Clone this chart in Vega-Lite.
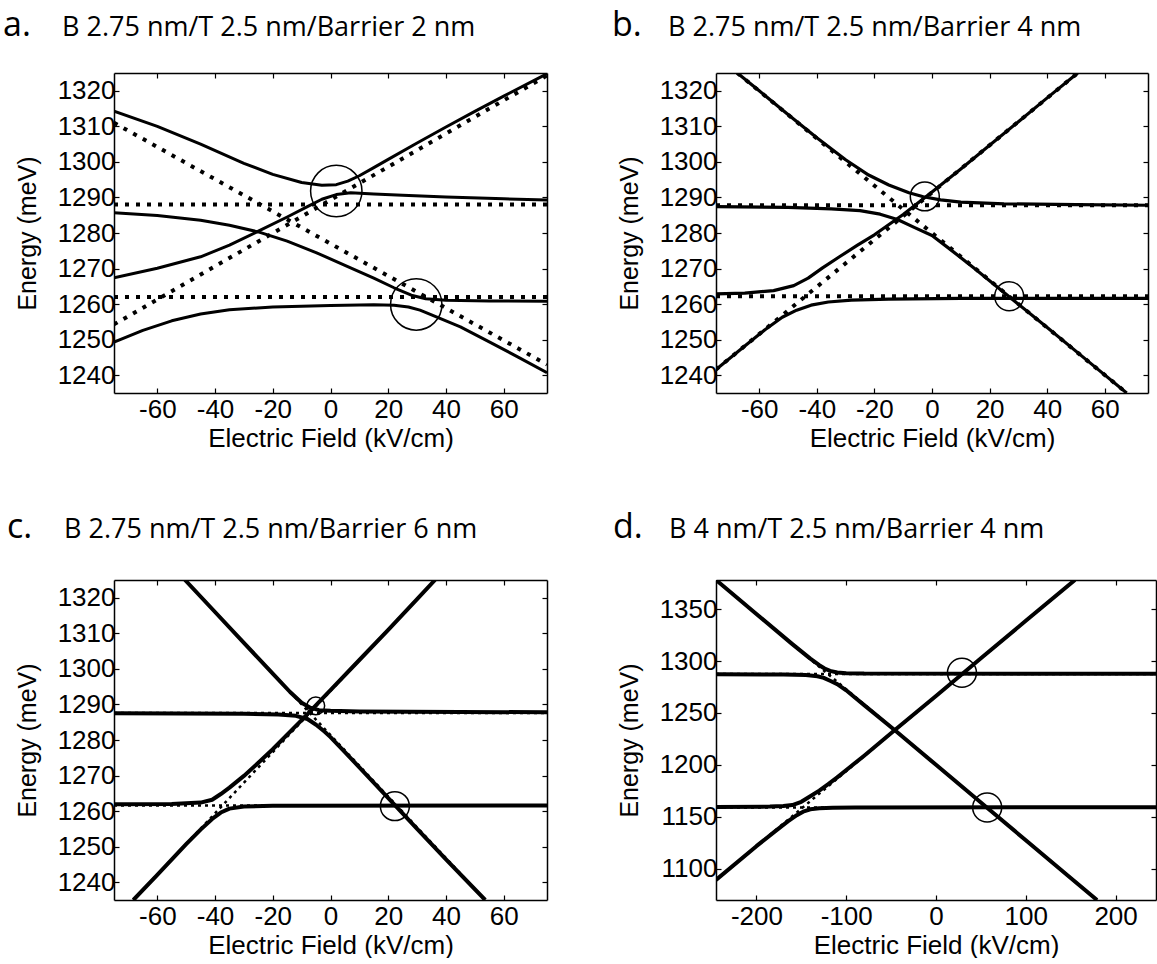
{
  "$schema": "https://vega.github.io/schema/vega-lite/v6.json",
  "background": "white",
  "padding": {"left": 3, "top": 9, "right": 0, "bottom": 0},
  "datasets": {
    "lines": [
      {"p":"a","s":"d","c":"D1","x":-75,"y":1288},{"p":"a","s":"d","c":"D1","x":75,"y":1288},
      {"p":"a","s":"d","c":"D2","x":-75,"y":1262},{"p":"a","s":"d","c":"D2","x":75,"y":1262},
      {"p":"a","s":"d","c":"I1","x":-75,"y":1311},{"p":"a","s":"d","c":"I1","x":75,"y":1243},
      {"p":"a","s":"d","c":"I2","x":-75,"y":1254.3},{"p":"a","s":"d","c":"I2","x":75,"y":1324.3},
      {"p":"a","s":"s","c":"S1","x":-75,"y":1314.3},{"p":"a","s":"s","c":"S1","x":-60,"y":1310},{"p":"a","s":"s","c":"S1","x":-45,"y":1305},{"p":"a","s":"s","c":"S1","x":-30,"y":1299.6},{"p":"a","s":"s","c":"S1","x":-20,"y":1296.5},{"p":"a","s":"s","c":"S1","x":-10,"y":1294.2},{"p":"a","s":"s","c":"S1","x":-3,"y":1293.4},{"p":"a","s":"s","c":"S1","x":2,"y":1293.6},{"p":"a","s":"s","c":"S1","x":6,"y":1294.6},{"p":"a","s":"s","c":"S1","x":10,"y":1296.1},{"p":"a","s":"s","c":"S1","x":15,"y":1298.4},{"p":"a","s":"s","c":"S1","x":20,"y":1300.7},{"p":"a","s":"s","c":"S1","x":30,"y":1305.3},{"p":"a","s":"s","c":"S1","x":40,"y":1309.8},{"p":"a","s":"s","c":"S1","x":50,"y":1314.2},{"p":"a","s":"s","c":"S1","x":60,"y":1318.5},{"p":"a","s":"s","c":"S1","x":75,"y":1324.8},
      {"p":"a","s":"s","c":"S2","x":-75,"y":1267.4},{"p":"a","s":"s","c":"S2","x":-60,"y":1270.1},{"p":"a","s":"s","c":"S2","x":-45,"y":1273.3},{"p":"a","s":"s","c":"S2","x":-35,"y":1276.6},{"p":"a","s":"s","c":"S2","x":-25,"y":1280.5},{"p":"a","s":"s","c":"S2","x":-15,"y":1284.5},{"p":"a","s":"s","c":"S2","x":-8,"y":1287.4},{"p":"a","s":"s","c":"S2","x":-3,"y":1289.5},{"p":"a","s":"s","c":"S2","x":2,"y":1290.8},{"p":"a","s":"s","c":"S2","x":7,"y":1291.3},{"p":"a","s":"s","c":"S2","x":15,"y":1291},{"p":"a","s":"s","c":"S2","x":25,"y":1290.6},{"p":"a","s":"s","c":"S2","x":40,"y":1290.1},{"p":"a","s":"s","c":"S2","x":60,"y":1289.6},{"p":"a","s":"s","c":"S2","x":75,"y":1289.3},
      {"p":"a","s":"s","c":"S3","x":-75,"y":1285.7},{"p":"a","s":"s","c":"S3","x":-60,"y":1284.9},{"p":"a","s":"s","c":"S3","x":-45,"y":1283.6},{"p":"a","s":"s","c":"S3","x":-35,"y":1282.2},{"p":"a","s":"s","c":"S3","x":-25,"y":1280.3},{"p":"a","s":"s","c":"S3","x":-15,"y":1277.7},{"p":"a","s":"s","c":"S3","x":-5,"y":1274.5},{"p":"a","s":"s","c":"S3","x":5,"y":1270.9},{"p":"a","s":"s","c":"S3","x":15,"y":1267.3},{"p":"a","s":"s","c":"S3","x":22,"y":1264.6},{"p":"a","s":"s","c":"S3","x":28,"y":1262.5},{"p":"a","s":"s","c":"S3","x":33,"y":1261.5},{"p":"a","s":"s","c":"S3","x":40,"y":1261.1},{"p":"a","s":"s","c":"S3","x":55,"y":1260.9},{"p":"a","s":"s","c":"S3","x":75,"y":1260.8},
      {"p":"a","s":"s","c":"S4","x":-75,"y":1249.3},{"p":"a","s":"s","c":"S4","x":-65,"y":1252.6},{"p":"a","s":"s","c":"S4","x":-55,"y":1255.3},{"p":"a","s":"s","c":"S4","x":-45,"y":1257.2},{"p":"a","s":"s","c":"S4","x":-35,"y":1258.4},{"p":"a","s":"s","c":"S4","x":-20,"y":1259.2},{"p":"a","s":"s","c":"S4","x":0,"y":1259.6},{"p":"a","s":"s","c":"S4","x":15,"y":1259.8},{"p":"a","s":"s","c":"S4","x":22,"y":1259.7},{"p":"a","s":"s","c":"S4","x":27,"y":1259.2},{"p":"a","s":"s","c":"S4","x":31,"y":1258.3},{"p":"a","s":"s","c":"S4","x":35,"y":1257},{"p":"a","s":"s","c":"S4","x":45,"y":1253.6},{"p":"a","s":"s","c":"S4","x":55,"y":1249.4},{"p":"a","s":"s","c":"S4","x":65,"y":1245.1},{"p":"a","s":"s","c":"S4","x":75,"y":1240.7},

      {"p":"b","s":"d","c":"D1","x":-75,"y":1287.8},{"p":"b","s":"d","c":"D1","x":75,"y":1287.8},
      {"p":"b","s":"d","c":"D2","x":-75,"y":1262.2},{"p":"b","s":"d","c":"D2","x":75,"y":1262.2},
      {"p":"b","s":"d","c":"I1","x":-67.6,"y":1325},{"p":"b","s":"d","c":"I1","x":67.6,"y":1235},
      {"p":"b","s":"d","c":"I2","x":-75,"y":1241.6},{"p":"b","s":"d","c":"I2","x":50.6,"y":1325},
      {"p":"b","s":"s","c":"S1","x":-67.6,"y":1325},{"p":"b","s":"s","c":"S1","x":-60,"y":1320},{"p":"b","s":"s","c":"S1","x":-50,"y":1313.3},{"p":"b","s":"s","c":"S1","x":-40,"y":1306.8},{"p":"b","s":"s","c":"S1","x":-30,"y":1300.6},{"p":"b","s":"s","c":"S1","x":-22,"y":1296.3},{"p":"b","s":"s","c":"S1","x":-15,"y":1293.5},{"p":"b","s":"s","c":"S1","x":-8,"y":1291.3},{"p":"b","s":"s","c":"S1","x":-3,"y":1290.2},{"p":"b","s":"s","c":"S1","x":3,"y":1289.3},{"p":"b","s":"s","c":"S1","x":10,"y":1288.7},{"p":"b","s":"s","c":"S1","x":25,"y":1288.2},{"p":"b","s":"s","c":"S1","x":50,"y":1288},{"p":"b","s":"s","c":"S1","x":75,"y":1287.8},
      {"p":"b","s":"s","c":"S2","x":-75,"y":1262.9},{"p":"b","s":"s","c":"S2","x":-65,"y":1263.1},{"p":"b","s":"s","c":"S2","x":-55,"y":1263.8},{"p":"b","s":"s","c":"S2","x":-48,"y":1265.2},{"p":"b","s":"s","c":"S2","x":-43,"y":1267.3},{"p":"b","s":"s","c":"S2","x":-38,"y":1270.2},{"p":"b","s":"s","c":"S2","x":-32,"y":1273.4},{"p":"b","s":"s","c":"S2","x":-26,"y":1276.5},{"p":"b","s":"s","c":"S2","x":-20,"y":1279.5},{"p":"b","s":"s","c":"S2","x":-10,"y":1285.2},{"p":"b","s":"s","c":"S2","x":0,"y":1291.5},{"p":"b","s":"s","c":"S2","x":10,"y":1298},{"p":"b","s":"s","c":"S2","x":20,"y":1304.7},{"p":"b","s":"s","c":"S2","x":30,"y":1311.3},{"p":"b","s":"s","c":"S2","x":40,"y":1318},{"p":"b","s":"s","c":"S2","x":50.6,"y":1325},
      {"p":"b","s":"s","c":"S3","x":-75,"y":1287.4},{"p":"b","s":"s","c":"S3","x":-50,"y":1287.2},{"p":"b","s":"s","c":"S3","x":-35,"y":1286.8},{"p":"b","s":"s","c":"S3","x":-25,"y":1286.3},{"p":"b","s":"s","c":"S3","x":-18,"y":1285.3},{"p":"b","s":"s","c":"S3","x":-12,"y":1283.8},{"p":"b","s":"s","c":"S3","x":-6,"y":1281.5},{"p":"b","s":"s","c":"S3","x":0,"y":1279.3},{"p":"b","s":"s","c":"S3","x":6,"y":1275.6},{"p":"b","s":"s","c":"S3","x":15,"y":1269.9},{"p":"b","s":"s","c":"S3","x":26.8,"y":1262.1},{"p":"b","s":"s","c":"S3","x":40,"y":1253.4},{"p":"b","s":"s","c":"S3","x":55,"y":1243.4},{"p":"b","s":"s","c":"S3","x":67.6,"y":1235},
      {"p":"b","s":"s","c":"S4","x":-75,"y":1241.6},{"p":"b","s":"s","c":"S4","x":-65,"y":1248.2},{"p":"b","s":"s","c":"S4","x":-58,"y":1252.8},{"p":"b","s":"s","c":"S4","x":-52,"y":1256.3},{"p":"b","s":"s","c":"S4","x":-47,"y":1258.3},{"p":"b","s":"s","c":"S4","x":-42,"y":1259.7},{"p":"b","s":"s","c":"S4","x":-36,"y":1260.6},{"p":"b","s":"s","c":"S4","x":-28,"y":1261.1},{"p":"b","s":"s","c":"S4","x":-15,"y":1261.4},{"p":"b","s":"s","c":"S4","x":10,"y":1261.6},{"p":"b","s":"s","c":"S4","x":75,"y":1261.6},

      {"p":"c","s":"d","c":"D1","x":-75,"y":1287.6},{"p":"c","s":"d","c":"D1","x":75,"y":1287.6},
      {"p":"c","s":"d","c":"D2","x":-75,"y":1261.6},{"p":"c","s":"d","c":"D2","x":75,"y":1261.6},
      {"p":"c","s":"d","c":"I1","x":-50.4,"y":1325},{"p":"c","s":"d","c":"I1","x":53.6,"y":1235},
      {"p":"c","s":"d","c":"I2","x":-68.3,"y":1235},{"p":"c","s":"d","c":"I2","x":36.2,"y":1325},
      {"p":"c","s":"s","c":"S1","x":-50.4,"y":1325},{"p":"c","s":"s","c":"S1","x":-40,"y":1316},{"p":"c","s":"s","c":"S1","x":-30,"y":1307.3},{"p":"c","s":"s","c":"S1","x":-20,"y":1298.7},{"p":"c","s":"s","c":"S1","x":-14,"y":1293.5},{"p":"c","s":"s","c":"S1","x":-10,"y":1290.5},{"p":"c","s":"s","c":"S1","x":-7,"y":1289.1},{"p":"c","s":"s","c":"S1","x":-4,"y":1288.4},{"p":"c","s":"s","c":"S1","x":0,"y":1288.2},{"p":"c","s":"s","c":"S1","x":10,"y":1288},{"p":"c","s":"s","c":"S1","x":75,"y":1287.8},
      {"p":"c","s":"s","c":"S2","x":-75,"y":1261.9},{"p":"c","s":"s","c":"S2","x":-55,"y":1262},{"p":"c","s":"s","c":"S2","x":-45,"y":1262.4},{"p":"c","s":"s","c":"S2","x":-41,"y":1263.2},{"p":"c","s":"s","c":"S2","x":-38,"y":1264.8},{"p":"c","s":"s","c":"S2","x":-35,"y":1266.6},{"p":"c","s":"s","c":"S2","x":-30,"y":1269.9},{"p":"c","s":"s","c":"S2","x":-25,"y":1273.6},{"p":"c","s":"s","c":"S2","x":-20,"y":1277.4},{"p":"c","s":"s","c":"S2","x":-10,"y":1285.6},{"p":"c","s":"s","c":"S2","x":0,"y":1294},{"p":"c","s":"s","c":"S2","x":10,"y":1302.5},{"p":"c","s":"s","c":"S2","x":20,"y":1311},{"p":"c","s":"s","c":"S2","x":30,"y":1319.6},{"p":"c","s":"s","c":"S2","x":36.2,"y":1325},
      {"p":"c","s":"s","c":"S3","x":-75,"y":1287.5},{"p":"c","s":"s","c":"S3","x":-30,"y":1287.4},{"p":"c","s":"s","c":"S3","x":-18,"y":1287.2},{"p":"c","s":"s","c":"S3","x":-12,"y":1286.8},{"p":"c","s":"s","c":"S3","x":-8,"y":1285.9},{"p":"c","s":"s","c":"S3","x":-5,"y":1284.3},{"p":"c","s":"s","c":"S3","x":-2,"y":1282.3},{"p":"c","s":"s","c":"S3","x":0,"y":1280.8},{"p":"c","s":"s","c":"S3","x":5,"y":1276.6},{"p":"c","s":"s","c":"S3","x":10,"y":1272.3},{"p":"c","s":"s","c":"S3","x":22.3,"y":1261.7},{"p":"c","s":"s","c":"S3","x":30,"y":1255},{"p":"c","s":"s","c":"S3","x":40,"y":1246.4},{"p":"c","s":"s","c":"S3","x":53.6,"y":1235},
      {"p":"c","s":"s","c":"S4","x":-68.3,"y":1235},{"p":"c","s":"s","c":"S4","x":-60,"y":1242.1},{"p":"c","s":"s","c":"S4","x":-50,"y":1250.7},{"p":"c","s":"s","c":"S4","x":-45,"y":1254.8},{"p":"c","s":"s","c":"S4","x":-41,"y":1257.8},{"p":"c","s":"s","c":"S4","x":-38,"y":1259.6},{"p":"c","s":"s","c":"S4","x":-35,"y":1260.7},{"p":"c","s":"s","c":"S4","x":-30,"y":1261.3},{"p":"c","s":"s","c":"S4","x":-20,"y":1261.5},{"p":"c","s":"s","c":"S4","x":75,"y":1261.6},

      {"p":"d","s":"d","c":"D1","x":-245,"y":1287.5},{"p":"d","s":"d","c":"D1","x":245,"y":1287.5},
      {"p":"d","s":"d","c":"D2","x":-245,"y":1159},{"p":"d","s":"d","c":"D2","x":245,"y":1159},
      {"p":"d","s":"d","c":"I1","x":-245,"y":1378},{"p":"d","s":"d","c":"I1","x":179.3,"y":1070},
      {"p":"d","s":"d","c":"I2","x":-245,"y":1089.3},{"p":"d","s":"d","c":"I2","x":154.7,"y":1378},
      {"p":"d","s":"s","c":"S1","x":-245,"y":1378},{"p":"d","s":"s","c":"S1","x":-200,"y":1345.3},{"p":"d","s":"s","c":"S1","x":-160,"y":1316.3},{"p":"d","s":"s","c":"S1","x":-140,"y":1302.3},{"p":"d","s":"s","c":"S1","x":-130,"y":1296},{"p":"d","s":"s","c":"S1","x":-124,"y":1292.8},{"p":"d","s":"s","c":"S1","x":-118,"y":1290.5},{"p":"d","s":"s","c":"S1","x":-110,"y":1289},{"p":"d","s":"s","c":"S1","x":-100,"y":1288.3},{"p":"d","s":"s","c":"S1","x":-80,"y":1287.9},{"p":"d","s":"s","c":"S1","x":245,"y":1287.7},
      {"p":"d","s":"s","c":"S2","x":-245,"y":1159.5},{"p":"d","s":"s","c":"S2","x":-185,"y":1159.9},{"p":"d","s":"s","c":"S2","x":-170,"y":1160.4},{"p":"d","s":"s","c":"S2","x":-160,"y":1161.4},{"p":"d","s":"s","c":"S2","x":-150,"y":1164.5},{"p":"d","s":"s","c":"S2","x":-140,"y":1169.8},{"p":"d","s":"s","c":"S2","x":-130,"y":1175.3},{"p":"d","s":"s","c":"S2","x":-120,"y":1181.5},{"p":"d","s":"s","c":"S2","x":-110,"y":1188},{"p":"d","s":"s","c":"S2","x":-95,"y":1198.5},{"p":"d","s":"s","c":"S2","x":-80,"y":1208.9},{"p":"d","s":"s","c":"S2","x":-45.8,"y":1233.6},{"p":"d","s":"s","c":"S2","x":0,"y":1266.4},{"p":"d","s":"s","c":"S2","x":50,"y":1302.6},{"p":"d","s":"s","c":"S2","x":100,"y":1338.7},{"p":"d","s":"s","c":"S2","x":154.7,"y":1378},
      {"p":"d","s":"s","c":"S3","x":-245,"y":1287.3},{"p":"d","s":"s","c":"S3","x":-170,"y":1287.1},{"p":"d","s":"s","c":"S3","x":-145,"y":1286.5},{"p":"d","s":"s","c":"S3","x":-132,"y":1285.4},{"p":"d","s":"s","c":"S3","x":-125,"y":1283.8},{"p":"d","s":"s","c":"S3","x":-118,"y":1281},{"p":"d","s":"s","c":"S3","x":-110,"y":1277.8},{"p":"d","s":"s","c":"S3","x":-100,"y":1271.8},{"p":"d","s":"s","c":"S3","x":-90,"y":1264.6},{"p":"d","s":"s","c":"S3","x":-80,"y":1257.6},{"p":"d","s":"s","c":"S3","x":-45.8,"y":1233.4},{"p":"d","s":"s","c":"S3","x":0,"y":1200.1},{"p":"d","s":"s","c":"S3","x":59.9,"y":1156.6},{"p":"d","s":"s","c":"S3","x":100,"y":1127.5},{"p":"d","s":"s","c":"S3","x":150,"y":1091.2},{"p":"d","s":"s","c":"S3","x":179.3,"y":1070},
      {"p":"d","s":"s","c":"S4","x":-245,"y":1089.3},{"p":"d","s":"s","c":"S4","x":-200,"y":1121.8},{"p":"d","s":"s","c":"S4","x":-180,"y":1135.6},{"p":"d","s":"s","c":"S4","x":-165,"y":1145.6},{"p":"d","s":"s","c":"S4","x":-155,"y":1151.6},{"p":"d","s":"s","c":"S4","x":-148,"y":1155},{"p":"d","s":"s","c":"S4","x":-140,"y":1157.3},{"p":"d","s":"s","c":"S4","x":-130,"y":1158.4},{"p":"d","s":"s","c":"S4","x":-115,"y":1158.9},{"p":"d","s":"s","c":"S4","x":-90,"y":1159.1},{"p":"d","s":"s","c":"S4","x":245,"y":1159.2}
    ],
    "circles": [
      {"p":"a","k":"big","x":2,"y":1291.8},{"p":"a","k":"big","x":29.7,"y":1259.9},
      {"p":"b","k":"mid","x":-2.5,"y":1290.3},{"p":"b","k":"mid","x":26.8,"y":1262.2},
      {"p":"c","k":"small","x":-5.1,"y":1289.6},{"p":"c","k":"mid","x":22.3,"y":1261.4},
      {"p":"d","k":"mid","x":28.9,"y":1288.8},{"p":"d","k":"mid","x":57,"y":1159}
    ]
  },
  "columns": 2,
  "spacing": {"row": 187, "column": 169},
  "bounds": "flush",
  "concat": [
    {
      "width": 433, "height": 320,
      "title": {"text": "a.", "subtitle": "B 2.75 nm/T 2.5 nm/Barrier 2 nm", "dx": -52, "offset": 29, "encode": {"title": {"update": {"dx": {"value": -111}}}}},
      "layer": [
        {"data": {"name": "lines"}, "transform": [{"filter": "datum.p=='a' && datum.s=='d'"}],
         "mark": {"type": "line", "clip": true, "color": "black", "strokeWidth": 4, "strokeDash": [4, 7]},
         "encoding": {
           "x": {"field": "x", "type": "quantitative", "scale": {"domain": [-75, 75], "nice": false, "zero": false},
                 "axis": {"orient": "bottom", "values": [-60,-40,-20,0,20,40,60], "title": "Electric Field (kV/cm)"}},
           "y": {"field": "y", "type": "quantitative", "scale": {"domain": [1235, 1325], "nice": false, "zero": false},
                 "axis": {"orient": "left", "values": [1240,1250,1260,1270,1280,1290,1300,1310,1320], "title": "Energy (meV)"}},
           "detail": {"field": "c"}}},
        {"data": {"name": "lines"}, "transform": [{"filter": "datum.p=='a' && datum.s=='s'"}],
         "mark": {"type": "line", "clip": true, "color": "black", "strokeWidth": 3, "strokeJoin": "round"},
         "encoding": {
           "x": {"field": "x", "type": "quantitative", "axis": {"orient": "top", "values": [-60,-40,-20,0,20,40,60], "labels": false, "title": null}},
           "y": {"field": "y", "type": "quantitative", "axis": {"orient": "right", "values": [1240,1250,1260,1270,1280,1290,1300,1310,1320], "labels": false, "title": null}},
           "detail": {"field": "c"}}},
        {"data": {"name": "circles"}, "transform": [{"filter": "datum.p=='a'"}],
         "mark": {"type": "point", "shape": "circle", "size": 2640, "filled": false, "color": "black", "strokeWidth": 1.5, "opacity": 1},
         "encoding": {"x": {"field": "x", "type": "quantitative", "axis": null}, "y": {"field": "y", "type": "quantitative", "axis": null}}}
      ],
      "resolve": {"axis": {"x": "independent", "y": "independent"}}
    },
    {
      "width": 432, "height": 320,
      "title": {"text": "b.", "subtitle": "B 2.75 nm/T 2.5 nm/Barrier 4 nm", "dx": -48, "offset": 29, "encode": {"title": {"update": {"dx": {"value": -104}}}}},
      "layer": [
        {"data": {"name": "lines"}, "transform": [{"filter": "datum.p=='b' && datum.s=='d'"}],
         "mark": {"type": "line", "clip": true, "color": "black", "strokeWidth": 4, "strokeDash": [4, 7]},
         "encoding": {
           "x": {"field": "x", "type": "quantitative", "scale": {"domain": [-75, 75], "nice": false, "zero": false},
                 "axis": {"orient": "bottom", "values": [-60,-40,-20,0,20,40,60], "title": "Electric Field (kV/cm)"}},
           "y": {"field": "y", "type": "quantitative", "scale": {"domain": [1235, 1325], "nice": false, "zero": false},
                 "axis": {"orient": "left", "values": [1240,1250,1260,1270,1280,1290,1300,1310,1320], "title": "Energy (meV)"}},
           "detail": {"field": "c"}}},
        {"data": {"name": "lines"}, "transform": [{"filter": "datum.p=='b' && datum.s=='s'"}],
         "mark": {"type": "line", "clip": true, "color": "black", "strokeWidth": 3.2, "strokeJoin": "round"},
         "encoding": {
           "x": {"field": "x", "type": "quantitative", "axis": {"orient": "top", "values": [-60,-40,-20,0,20,40,60], "labels": false, "title": null}},
           "y": {"field": "y", "type": "quantitative", "axis": {"orient": "right", "values": [1240,1250,1260,1270,1280,1290,1300,1310,1320], "labels": false, "title": null}},
           "detail": {"field": "c"}}},
        {"data": {"name": "circles"}, "transform": [{"filter": "datum.p=='b'"}],
         "mark": {"type": "point", "shape": "circle", "size": 840, "filled": false, "color": "black", "strokeWidth": 1.5, "opacity": 1},
         "encoding": {"x": {"field": "x", "type": "quantitative", "axis": null}, "y": {"field": "y", "type": "quantitative", "axis": null}}}
      ],
      "resolve": {"axis": {"x": "independent", "y": "independent"}}
    },
    {
      "width": 433, "height": 320,
      "title": {"text": "c.", "subtitle": "B 2.75 nm/T 2.5 nm/Barrier 6 nm", "dx": -50, "offset": 34, "encode": {"title": {"update": {"dx": {"value": -107}}}}},
      "layer": [
        {"data": {"name": "lines"}, "transform": [{"filter": "datum.p=='c' && datum.s=='d'"}],
         "mark": {"type": "line", "clip": true, "color": "black", "strokeWidth": 2.5, "strokeDash": [3, 4]},
         "encoding": {
           "x": {"field": "x", "type": "quantitative", "scale": {"domain": [-75, 75], "nice": false, "zero": false},
                 "axis": {"orient": "bottom", "values": [-60,-40,-20,0,20,40,60], "title": "Electric Field (kV/cm)"}},
           "y": {"field": "y", "type": "quantitative", "scale": {"domain": [1235, 1325], "nice": false, "zero": false},
                 "axis": {"orient": "left", "values": [1240,1250,1260,1270,1280,1290,1300,1310,1320], "title": "Energy (meV)"}},
           "detail": {"field": "c"}}},
        {"data": {"name": "lines"}, "transform": [{"filter": "datum.p=='c' && datum.s=='s'"}],
         "mark": {"type": "line", "clip": true, "color": "black", "strokeWidth": 4, "strokeJoin": "round"},
         "encoding": {
           "x": {"field": "x", "type": "quantitative", "axis": {"orient": "top", "values": [-60,-40,-20,0,20,40,60], "labels": false, "title": null}},
           "y": {"field": "y", "type": "quantitative", "axis": {"orient": "right", "values": [1240,1250,1260,1270,1280,1290,1300,1310,1320], "labels": false, "title": null}},
           "detail": {"field": "c"}}},
        {"data": {"name": "circles"}, "transform": [{"filter": "datum.p=='c' && datum.k=='mid'"}],
         "mark": {"type": "point", "shape": "circle", "size": 840, "filled": false, "color": "black", "strokeWidth": 1.5, "opacity": 1},
         "encoding": {"x": {"field": "x", "type": "quantitative", "axis": null}, "y": {"field": "y", "type": "quantitative", "axis": null}}},
        {"data": {"name": "circles"}, "transform": [{"filter": "datum.p=='c' && datum.k=='small'"}],
         "mark": {"type": "point", "shape": "circle", "size": 314, "filled": false, "color": "black", "strokeWidth": 1.5, "opacity": 1},
         "encoding": {"x": {"field": "x", "type": "quantitative", "axis": null}, "y": {"field": "y", "type": "quantitative", "axis": null}}}
      ],
      "resolve": {"axis": {"x": "independent", "y": "independent"}}
    },
    {
      "width": 440, "height": 320,
      "title": {"text": "d.", "subtitle": "B 4 nm/T 2.5 nm/Barrier 4 nm", "dx": -47, "offset": 34, "encode": {"title": {"update": {"dx": {"value": -103}}}}},
      "layer": [
        {"data": {"name": "lines"}, "transform": [{"filter": "datum.p=='d' && datum.s=='d'"}],
         "mark": {"type": "line", "clip": true, "color": "black", "strokeWidth": 2.5, "strokeDash": [3, 4]},
         "encoding": {
           "x": {"field": "x", "type": "quantitative", "scale": {"domain": [-245, 245], "nice": false, "zero": false},
                 "axis": {"orient": "bottom", "values": [-200,-100,0,100,200], "title": "Electric Field (kV/cm)"}},
           "y": {"field": "y", "type": "quantitative", "scale": {"domain": [1070, 1378], "nice": false, "zero": false},
                 "axis": {"orient": "left", "values": [1100,1150,1200,1250,1300,1350], "title": "Energy (meV)"}},
           "detail": {"field": "c"}}},
        {"data": {"name": "lines"}, "transform": [{"filter": "datum.p=='d' && datum.s=='s'"}],
         "mark": {"type": "line", "clip": true, "color": "black", "strokeWidth": 4, "strokeJoin": "round"},
         "encoding": {
           "x": {"field": "x", "type": "quantitative", "axis": {"orient": "top", "values": [-200,-100,0,100,200], "labels": false, "title": null}},
           "y": {"field": "y", "type": "quantitative", "axis": {"orient": "right", "values": [1100,1150,1200,1250,1300,1350], "labels": false, "title": null}},
           "detail": {"field": "c"}}},
        {"data": {"name": "circles"}, "transform": [{"filter": "datum.p=='d'"}],
         "mark": {"type": "point", "shape": "circle", "size": 840, "filled": false, "color": "black", "strokeWidth": 1.5, "opacity": 1},
         "encoding": {"x": {"field": "x", "type": "quantitative", "axis": null}, "y": {"field": "y", "type": "quantitative", "axis": null}}}
      ],
      "resolve": {"axis": {"x": "independent", "y": "independent"}}
    }
  ],
  "config": {
    "view": {"stroke": null},
    "title": {"anchor": "start", "frame": "group", "font": "Open Sans", "fontSize": 34, "fontWeight": "normal", "color": "black",
              "subtitleFont": "Open Sans", "subtitleFontSize": 27, "subtitleColor": "black", "subtitlePadding": -28.5},
    "axis": {"grid": false, "domainColor": "black", "domainWidth": 1.5, "tickColor": "black", "tickWidth": 1.2, "tickSize": -5,
             "labelFont": "Liberation Sans", "labelFontSize": 26, "labelColor": "black", "labelPadding": 8, "labelOverlap": false, "labelFlush": false, "labelBound": false,
             "labelExpr": "'' + datum.value",
             "titleFont": "Liberation Sans", "titleFontSize": 26, "titleFontWeight": "normal", "titleColor": "black"},
    "axisX": {"titlePadding": 3},
    "axisY": {"titlePadding": 17, "titleFontSize": 25, "labelPadding": 4}
  }
}
